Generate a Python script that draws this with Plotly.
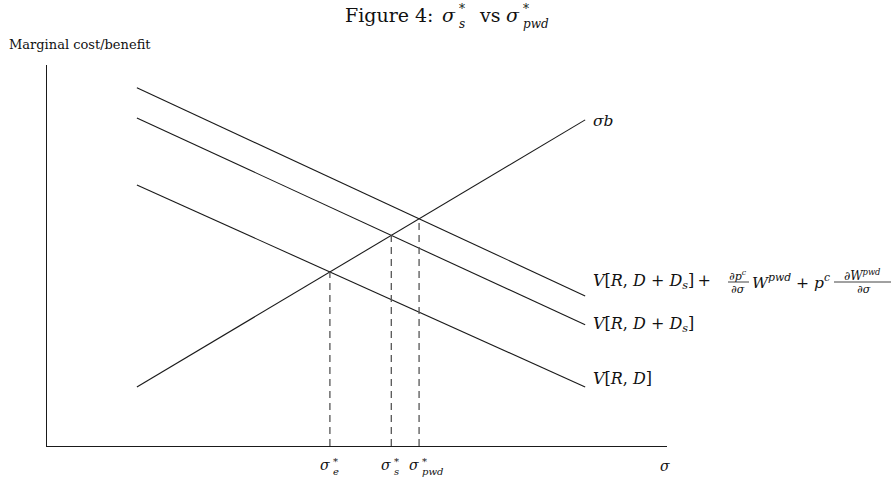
import plotly.graph_objects as go

# Diagram geometry (arbitrary units on both axes, 0..10)
sigma_range = [1.45, 8.68]          # horizontal extent of each schedule
sigma_b = [1.55, 8.56]              # marginal cost: sigma * b (rising)
v_rd = [6.85, 1.55]                 # V[R, D]
v_rd_ds = [8.61, 3.18]              # V[R, D + D_s]
v_full = [9.40, 3.94]               # V[R, D + D_s] + extra pwd terms

W, H = 895, 479
ML, MR, MT, MB = 47, 228, 65, 33
PW, PH = W - ML - MR, H - MT - MB

SERIF = "DejaVu Serif"
INK = "#1a1a1a"


def px(x):
    return (x - ML) / PW


def py(y):
    return (H - MB - y) / PH


def line_at(vals, s):
    (s0, s1), (v0, v1) = sigma_range, vals
    return v0 + (v1 - v0) * (s - s0) / (s1 - s0)


def crossing(a, b):
    (s0, s1) = sigma_range
    da0, da1 = a[0] - b[0], a[1] - b[1]
    t = da0 / (da0 - da1)
    s = s0 + t * (s1 - s0)
    return s, line_at(a, s)


fig = go.Figure()

for vals in (sigma_b, v_rd, v_rd_ds, v_full):
    fig.add_trace(go.Scatter(x=sigma_range, y=vals, mode="lines",
                             line=dict(color=INK, width=1.1),
                             hoverinfo="skip", showlegend=False))

# Optimal sigma: where marginal cost meets each marginal benefit
opt = [crossing(sigma_b, v_rd), crossing(sigma_b, v_rd_ds), crossing(sigma_b, v_full)]
opt_subs = ["<i>e</i>", "<i>s</i>", "<i>pwd</i>"]
for s, v in opt:
    fig.add_trace(go.Scatter(x=[s, s], y=[0, v], mode="lines",
                             line=dict(color="#555555", width=1.3, dash="7px,5px"),
                             hoverinfo="skip", showlegend=False))

ann = []


def text(x, y, t, size=14, xanchor="left", yanchor="middle", **kw):
    ann.append(dict(x=x, y=y, xref="paper", yref="paper", text=t, showarrow=False,
                    xanchor=xanchor, yanchor=yanchor, borderpad=0,
                    font=dict(family=SERIF, size=size, color="#111111"), **kw))


def scripts(xpix, ypix, sup, sub, size=10, up=5, down=5):
    # superscript and subscript stacked on the same left edge
    text(px(xpix), py(ypix - up), sup, size=size)
    text(px(xpix), py(ypix + down), sub, size=size)


# Labels under the horizontal axis at each optimum
for (s, v), sub in zip(opt, opt_subs):
    xpix = ML + s / 10 * PW
    text(px(xpix + 1), py(465), "<i>σ</i>", size=14, xanchor="right")
    scripts(xpix + 2, 465, "*", sub, size=10, up=4, down=6)

# Axis labels
text(px(665), py(466), "<i>σ</i>", size=14, xanchor="center")
text(px(8), py(45), "Marginal cost/benefit", size=13)

# Title: Figure 4: sigma*_s vs sigma*_pwd
text(px(435), py(15), "Figure 4:", size=19, xanchor="right")
text(px(457), py(15), "<i>σ</i>", size=19, xanchor="right")
scripts(458, 15, "*", "<i>s</i>", size=12, up=6, down=9)
text(px(478), py(15), "vs", size=19)
text(px(521), py(15), "<i>σ</i>", size=19, xanchor="right")
scripts(522, 15, "*", "<i>pwd</i>", size=12, up=6, down=9)

# Schedule labels on the right
text(px(592), py(121), "<i>σb</i>", size=15.5)
text(px(592), py(324), "<i>V</i>[<i>R</i>, <i>D</i> + <i>D<sub>s</sub></i>]", size=16)
text(px(592), py(378), "<i>V</i>[<i>R</i>, <i>D</i>]", size=16)

yc = 281
text(px(592), py(yc), "<i>V</i>[<i>R</i>, <i>D</i> + <i>D<sub>s</sub></i>]&#8201;+", size=16)
text(px(738), py(yc - 6), "∂<i>p<sup>c</sup></i>", size=11, xanchor="center")
text(px(738), py(yc + 8), "∂<i>σ</i>", size=11, xanchor="center")
text(px(751), py(yc), "<i>W<sup>pwd</sup></i> + <i>p<sup>c</sup></i>", size=15.5)
text(px(862), py(yc - 6), "∂<i>W<sup>pwd</sup></i>", size=12, xanchor="center")
text(px(864), py(yc + 8), "∂<i>σ</i>", size=11, xanchor="center")

shapes = []
for x0, x1 in ((728, 749), (834, 891)):
    shapes.append(dict(type="line", xref="paper", yref="paper",
                       x0=px(x0), x1=px(x1), y0=py(yc + 1), y1=py(yc + 1),
                       line=dict(color="#111111", width=0.8)))

axis = dict(range=[0, 10], showline=True, linecolor=INK, linewidth=1.3,
            showgrid=False, zeroline=False, showticklabels=False, ticks="",
            fixedrange=True)

fig.update_layout(
    width=W, height=H,
    margin=dict(l=ML, r=MR, t=MT, b=MB),
    paper_bgcolor="white", plot_bgcolor="white",
    xaxis=axis, yaxis=axis,
    annotations=ann, shapes=shapes,
    showlegend=False,
)

fig.write_html("out.html")
